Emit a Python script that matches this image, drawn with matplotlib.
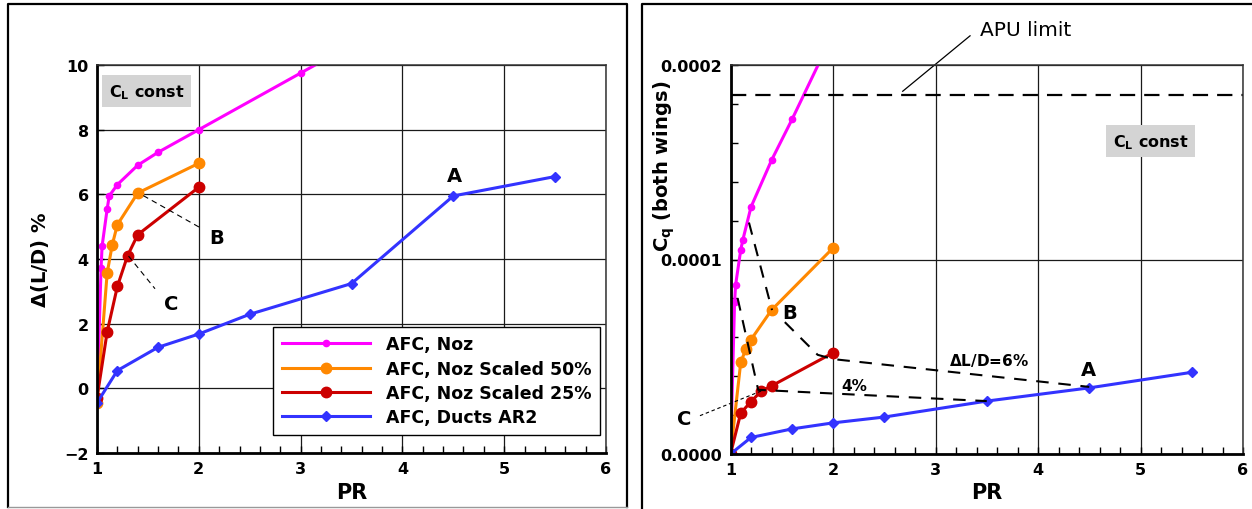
import matplotlib
matplotlib.use('Agg')
import matplotlib.pyplot as plt
from matplotlib.lines import Line2D
from matplotlib.ticker import MultipleLocator, FormatStrFormatter

# ---- data -------------------------------------------------------------
series_labels = ['AFC, Noz', 'AFC, Noz Scaled 50%', 'AFC, Noz Scaled 25%', 'AFC, Ducts AR2']

# pressure ratio
pr_noz = [1.0, 1.04, 1.05, 1.1, 1.12, 1.2, 1.4, 1.6, 2.0, 3.0, 4.0]
pr_noz50 = [1.0, 1.1, 1.15, 1.2, 1.4, 2.0]
pr_noz25 = [1.0, 1.1, 1.2, 1.3, 1.4, 2.0]
pr_ducts = [1.0, 1.2, 1.6, 2.0, 2.5, 3.5, 4.5, 5.5]

# change in L/D, percent
dld_noz = [-0.4, 3.73, 4.4, 5.55, 5.95, 6.3, 6.9, 7.3, 8.0, 9.75, 11.5]
dld_noz50 = [-0.45, 3.57, 4.44, 5.06, 6.04, 6.96]
dld_noz25 = [-0.3, 1.75, 3.15, 4.1, 4.75, 6.22]
dld_ducts = [-0.45, 0.55, 1.27, 1.68, 2.29, 3.24, 5.95, 6.55]

# blowing coefficient, both wings
cq_noz = [0.0, 7.84e-5, 8.7e-5, 1.05e-4, 1.10e-4, 1.27e-4, 1.51e-4, 1.72e-4, 2.16e-4, 3.2e-4, 4.2e-4]
cq_noz50 = [0.0, 4.72e-5, 5.39e-5, 5.88e-5, 7.40e-5, 1.059e-4]
cq_noz25 = [0.0, 2.11e-5, 2.69e-5, 3.24e-5, 3.50e-5, 5.2e-5]
cq_ducts = [0.0, 8.5e-6, 1.29e-5, 1.6e-5, 1.9e-5, 2.72e-5, 3.4e-5, 4.2e-5]

apu_limit = 1.845e-4

# constant-L/D guide lines on the Cq chart
iso6_upper_pr = [1.18, 1.405]
iso6_upper_cq = [1.19e-4, 7.4e-5]
iso6_lower_pr = [1.53, 1.85, 2.0, 4.5]
iso6_lower_cq = [6.78e-5, 5.1e-5, 4.88e-5, 3.45e-5]
iso4_pr = [1.07, 1.27, 3.5]
iso4_cq = [8.0e-5, 3.3e-5, 2.72e-5]

# ---- style ------------------------------------------------------------
plt.rcParams['font.family'] = ['DejaVu Sans']
plt.rcParams['font.weight'] = 'bold'
plt.rcParams['axes.labelweight'] = 'bold'
plt.rcParams['mathtext.fontset'] = 'dejavusans'
plt.rcParams['lines.scale_dashes'] = False

colors = ['#ff00ff', '#ff8800', '#cc0000', '#3333ff']
markers = ['o', 'o', 'o', 'D']
msizes = [4.5, 7.5, 7.5, 5]

W, H = 1252, 510
fig = plt.figure(figsize=(W / 100, H / 100), dpi=100)
ax1 = fig.add_axes([97 / W, 1 - 454 / H, 509 / W, 388 / H])
ax2 = fig.add_axes([730.5 / W, 1 - 455 / H, 512.5 / W, 389 / H])


def style(ax):
    ax.grid(True, which='major', color='#1a1a1a', lw=0.9)
    ax.set_axisbelow(True)
    ax.tick_params(which='both', direction='in', top=False, right=False,
                   labelsize=11.5, pad=6, length=5, width=1)
    for s in ('left', 'bottom'):
        ax.spines[s].set_linewidth(2)
    for s in ('top', 'right'):
        ax.spines[s].set_linewidth(1.1)
        ax.spines[s].set_color('#333333')
    ax.set_xlim(1, 6)
    ax.xaxis.set_major_locator(MultipleLocator(1))
    ax.xaxis.set_minor_locator(MultipleLocator(0.2))


def fig_line(xs, ys, **kw):
    fig.add_artist(Line2D([x / W for x in xs], [1 - y / H for y in ys],
                          transform=fig.transFigure, **kw))


box = dict(boxstyle='square,pad=0.42', fc='#d4d4d4', ec='none')

# ---- left: delta L/D ----------------------------------------------------
style(ax1)
ax1.set_ylim(-2, 10)
ax1.yaxis.set_major_locator(MultipleLocator(2))
for x, y, c, m, ms, lab in zip([pr_noz, pr_noz50, pr_noz25, pr_ducts],
                               [dld_noz, dld_noz50, dld_noz25, dld_ducts],
                               colors, markers, msizes, series_labels):
    ax1.plot(x, y, color=c, lw=2.2, marker=m, ms=ms, label=lab)

ax1.set_xlabel('PR', fontsize=15)
ax1.xaxis.set_label_coords(0.5, -(493 - 454) / 388)
ax1.xaxis.label.set_va('center')
ax1.set_ylabel(r'$\Delta$(L/D) %', fontsize=14)
ax1.yaxis.set_label_coords(-0.112, 0.5)
ax1.yaxis.label.set_va('center')

ax1.text(1.488, 9.19, r'$\mathbf{C_L}$ const', fontsize=11.5, ha='center',
         va='center', bbox=box)
ax1.text(4.51, 6.58, 'A', fontsize=14, ha='center', va='center')
ax1.text(2.176, 4.67, 'B', fontsize=14, ha='center', va='center')
ax1.text(1.73, 2.61, 'C', fontsize=14, ha='center', va='center')
ax1.plot([1.455, 2.035], [5.96, 4.93], color='k', lw=0.8, dashes=(4, 3))
ax1.plot([1.31, 1.57], [4.09, 3.08], color='k', lw=0.8, dashes=(4, 3))

leg = ax1.legend(loc='lower right', bbox_to_anchor=(0.988, 0.047),
                 prop={'weight': 'bold', 'size': 12.5}, frameon=True,
                 fancybox=False, edgecolor='k', framealpha=1,
                 handlelength=5.1, handletextpad=0.9, labelspacing=0.36,
                 borderpad=0.5, borderaxespad=0, numpoints=1)
leg.get_frame().set_linewidth(1)

# ---- right: Cq ----------------------------------------------------------
style(ax2)
ax2.set_ylim(0, 0.0002)
ax2.yaxis.set_major_locator(MultipleLocator(0.0001))
ax2.yaxis.set_minor_locator(MultipleLocator(0.00002))
ax2.yaxis.set_major_formatter(FormatStrFormatter('%.4f'))
for x, y, c, m, ms in zip([pr_noz, pr_noz50, pr_noz25, pr_ducts],
                          [cq_noz, cq_noz50, cq_noz25, cq_ducts],
                          colors, markers, msizes):
    ax2.plot(x, y, color=c, lw=2.2, marker=m, ms=ms)

ax2.axhline(apu_limit, color='k', lw=1.6, dashes=(11, 6.5))
ax2.plot(iso6_upper_pr, iso6_upper_cq, color='k', lw=1.5, dashes=(9, 7))
ax2.plot(iso6_lower_pr, iso6_lower_cq, color='k', lw=1.5, dashes=(9, 7))
ax2.plot(iso4_pr, iso4_cq, color='k', lw=1.5, dashes=(9, 7))
ax2.plot([0.702, 1.30], [1.97e-5, 3.24e-5], color='k', lw=0.8,
         dashes=(2.5, 2), clip_on=False)
ax2.plot([2.68, 3.337], [1.865e-4, 2.15e-4], color='k', lw=0.9, clip_on=False)

ax2.text(3.883, 2.185e-4, 'APU limit', fontsize=14.5, fontweight='normal',
         ha='center', va='center', clip_on=False)
ax2.text(5.1, 1.607e-4, r'$\mathbf{C_L}$ const', fontsize=11.5, ha='center',
         va='center', bbox=box)
ax2.text(1.58, 7.29e-5, 'B', fontsize=14, ha='center', va='center')
ax2.text(4.488, 4.37e-5, 'A', fontsize=14, ha='center', va='center')
ax2.text(0.546, 1.8e-5, 'C', fontsize=14, ha='center', va='center', clip_on=False)
ax2.text(3.517, 4.85e-5, r'$\Delta$L/D=6%', fontsize=11, ha='center', va='center')
ax2.text(2.205, 3.5e-5, '4%', fontsize=11, ha='center', va='center')

ax2.set_xlabel('PR', fontsize=15)
ax2.xaxis.set_label_coords(0.5, -(493 - 455) / 389)
ax2.xaxis.label.set_va('center')
ax2.set_ylabel(r'$\mathbf{C_q}$ (both wings)', fontsize=14)
ax2.yaxis.set_label_coords(-0.13, 0.743)
ax2.yaxis.label.set_va('center')

# ---- panel frames -------------------------------------------------------
fig_line([8, 8, 627, 627], [508, 5, 5, 508], color='k', lw=1.6)
fig_line([8, 627], [508, 508], color='#999999', lw=1)
fig_line([642, 642, 1252], [510, 5, 5], color='k', lw=1.6)

fig.savefig('out.png', dpi=100)
